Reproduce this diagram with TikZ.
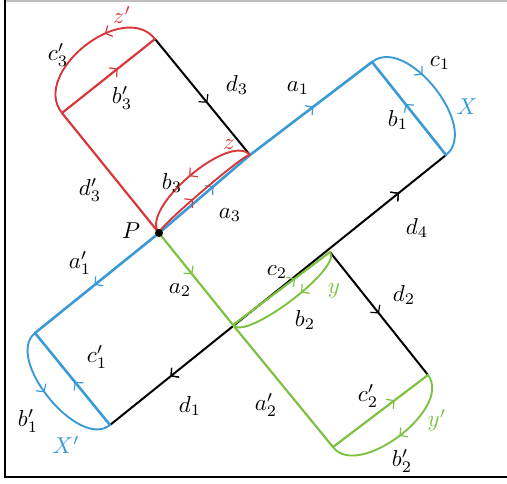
\documentclass[tikz,border=0pt]{standalone}
\usepackage{graphicx}
\usetikzlibrary{calc,arrows.meta,decorations.markings}
\definecolor{hblue}{RGB}{58,154,214}
\definecolor{hred}{RGB}{216,55,58}
\definecolor{hgreen}{RGB}{124,194,66}
\newcommand{\lbl}[1]{\scalebox{2.3}{$#1$}}
\tikzset{
  ar/.style={postaction={decorate},decoration={markings,mark=at position #1 with {\arrow{Straight Barb[length=5.5pt,width=12pt,line width=1.2pt]}}}},
  rar/.style={postaction={decorate},decoration={markings,mark=at position #1 with {\arrowreversed{Straight Barb[length=5.5pt,width=12pt,line width=1.2pt]}}}},
  bl/.style={draw=hblue,line width=2.6pt,line cap=round},
  blarc/.style={draw=hblue,line width=1.9pt,line cap=round},
  rd/.style={draw=hred,line width=2.2pt,line cap=round},
  rdarc/.style={draw=hred,line width=1.9pt,line cap=round},
  gr/.style={draw=hgreen,line width=2.2pt,line cap=round},
  grarc/.style={draw=hgreen,line width=1.9pt,line cap=round},
  bk/.style={draw=black,line width=2pt,line cap=round},
  lab/.style={inner sep=0pt},
}
\begin{document}
\begin{tikzpicture}[x=1pt,y=-1pt]
\useasboundingbox (0,0) rectangle (507,483);
% frame
\draw[gray!50,line width=2pt] (5,1) -- (507,1);
\draw[black,line width=2.2pt] (5,0) -- (5,477) -- (507,477);
% points
\coordinate (P) at (159,233);
\coordinate (Z1) at (155,39);
\coordinate (Z2) at (62,113);
\coordinate (Q3) at (250,155);
\coordinate (A1) at (372,62);
\coordinate (B1) at (446,155);
\coordinate (L1) at (35,333);
\coordinate (L2) at (110,425);
\coordinate (G) at (233,325);
\coordinate (G1) at (330,252);
\coordinate (G2) at (428,375);
\coordinate (G3) at (333,447);
% black edges
\path[bk,ar=0.55] (Z1) -- (Q3);
\path[bk,ar=0.86,rar=0.18] (L2) -- (B1);
\path[bk,ar=0.5] (G1) -- (G2);
% red square
\path[rd] (Z2) -- (P);
\path[rd,ar=0.6] (Z2) -- (Z1);
\path[rdarc,ar=0.35] (Z1) .. controls ($(Z1)!0.43!-90:(Z2)$) and ($(Z2)!0.43!90:(Z1)$) .. (Z2);
% blue
\path[bl,ar=0.6] (P) -- (Q3);
\path[bl,ar=0.52] (Q3) -- (A1);
\path[bl,ar=0.55] (B1) -- (A1);
\path[blarc,ar=0.38] (A1) .. controls ($(A1)!0.37!90:(B1)$) and ($(B1)!0.37!-90:(A1)$) .. (B1);
\path[bl,ar=0.52] (P) -- (L1);
\path[bl,ar=0.47] (L2) -- (L1);
\path[blarc,ar=0.45] (L1) .. controls ($(L1)!0.34!-90:(L2)$) and ($(L2)!0.34!90:(L1)$) .. (L2);
% red z loop
\path[rdarc,ar=0.4] (P) .. controls ($(P)!0.04!90:(Q3)$) and ($(Q3)!0.04!-90:(P)$) .. (Q3);
\path[rdarc,ar=0.5] (Q3) .. controls ($(Q3)!0.26!-90:(P)$) and ($(P)!0.26!90:(Q3)$) .. (P);
% green
\path[gr,ar=0.45] (P) -- (G);
\path[gr] (G) -- (G3);
\path[gr,ar=0.64] (G) -- (G1);
\path[grarc,ar=0.4] (G1) .. controls ($(G1)!0.17!90:(G)$) and ($(G)!0.17!-90:(G1)$) .. (G);
\path[gr,ar=0.65] (G3) -- (G2);
\path[grarc,ar=0.5] (G2) .. controls ($(G2)!0.35!90:(G3)$) and ($(G3)!0.35!-90:(G2)$) .. (G3);
% P dot
\fill (P) circle (4pt);
% labels
\node[lab,text=hred] (lz1) at (122,15) {\lbl{z'}};
\node[lab] (lc3) at (58,55) {\lbl{c_3'}};
\node[lab] (lb3p) at (122,98) {\lbl{b_3'}};
\node[lab] (ld3) at (237,85) {\lbl{d_3}};
\node[lab] (ld3p) at (90,190) {\lbl{d_3'}};
\node[lab,text=hred] (lz) at (229,145) {\lbl{z}};
\node[lab] (lb3) at (172,183) {\lbl{b_3}};
\node[lab] (la3) at (230,215) {\lbl{a_3}};
\node[lab] (lP) at (131,231) {\lbl{P}};
\node[lab] (la1) at (298,88) {\lbl{a_1}};
\node[lab] (lc1) at (440,63) {\lbl{c_1}};
\node[lab,text=hblue] (lX) at (467,107) {\lbl{X}};
\node[lab] (lb1) at (398,120) {\lbl{b_1}};
\node[lab] (ld4) at (417,228) {\lbl{d_4}};
\node[lab] (la1p) at (80,263) {\lbl{a_1'}};
\node[lab] (la2) at (180,290) {\lbl{a_2}};
\node[lab] (lc1p) at (97,357) {\lbl{c_1'}};
\node[lab] (ld1) at (190,406) {\lbl{d_1}};
\node[lab] (lb1p) at (28,421) {\lbl{b_1'}};
\node[lab,text=hblue] (lXp) at (66,445) {\lbl{X'}};
\node[lab] (lc2) at (277,272) {\lbl{c_2}};
\node[lab,text=hgreen] (ly) at (334,291) {\lbl{y}};
\node[lab] (lb2) at (305,320) {\lbl{b_2}};
\node[lab] (ld2) at (404,295) {\lbl{d_2}};
\node[lab] (lc2p) at (368,396) {\lbl{c_2'}};
\node[lab,text=hgreen] (lyp) at (437,420) {\lbl{y'}};
\node[lab] (la2p) at (266,405) {\lbl{a_2'}};
\node[lab] (lb2p) at (402,461) {\lbl{b_2'}};
\end{tikzpicture}
\end{document}
